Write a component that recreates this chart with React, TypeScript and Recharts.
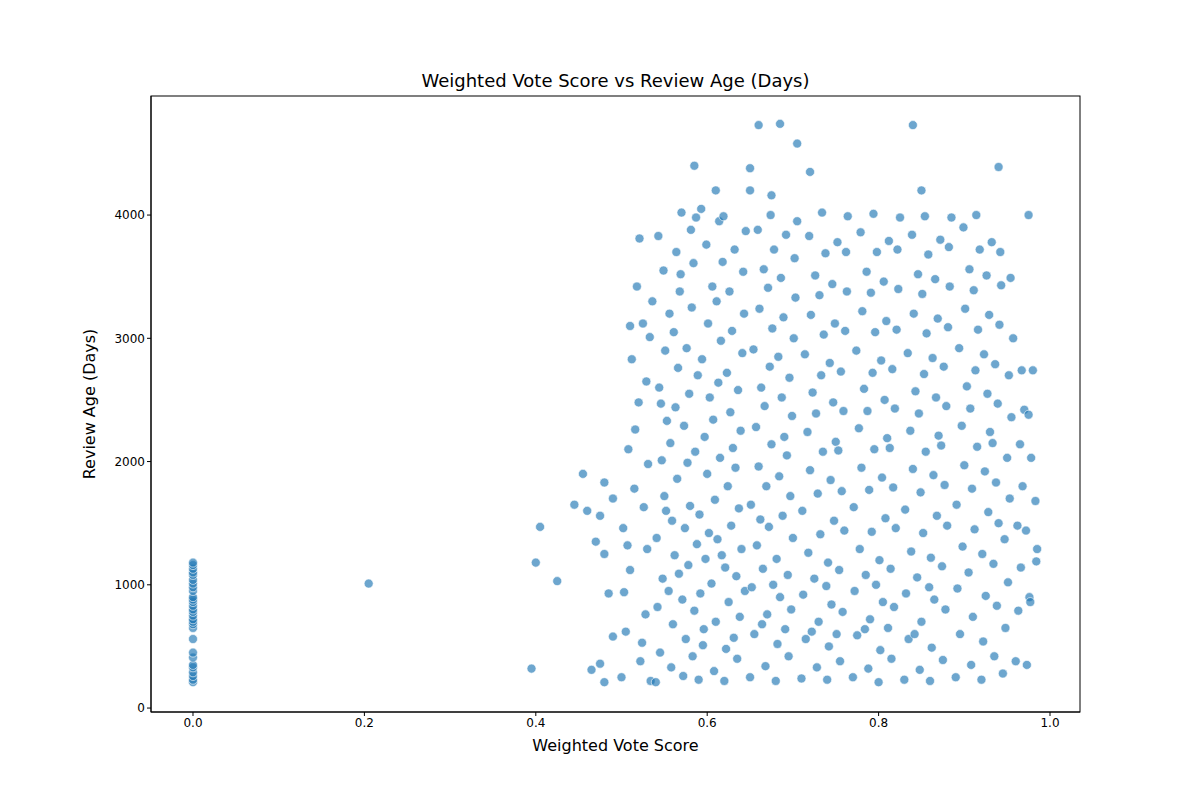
import { Scatter, ScatterChart, XAxis, YAxis, ZAxis } from 'recharts';

type Pt = [number, number];

const zeroScores: number[] = [210, 230, 260, 290, 330, 350, 410, 450, 560, 650, 680, 700, 720, 750, 780, 800, 830, 860, 880, 900, 950, 980, 1010, 1040, 1080, 1100, 1130, 1160, 1180];

const lowOutliers: Pt[] = [[0.205,1010],[0.395,320],[0.40,1180],[0.405,1470],[0.425,1030],[0.455,1900],[0.445,1650],[0.46,1600],[0.47,1350],[0.475,1560],[0.48,1250],[0.48,210],[0.465,310],[0.475,360],[0.485,930],[0.49,580],[0.49,1700],[0.48,1830]];

const highOutliers: Pt[] = [[0.66,4730],[0.685,4740],[0.84,4730],[0.705,4580],[0.585,4400],[0.65,4380],[0.72,4350],[0.94,4390],[0.61,4200],[0.85,4200],[0.65,4200],[0.675,4160],[0.975,4000]];

const mainCloud: Pt[] = [
  [0.50,250],[0.505,620],[0.51,1120],[0.502,1460],[0.515,1780],[0.508,2100],[0.52,2480],[0.512,2830],[0.525,3120],[0.518,3420],[0.503,940],[0.522,380],[0.528,760],[0.53,1290],[0.526,1630],[0.531,1980],[0.516,2260],[0.529,2650],[0.533,3010],[0.521,3810],[0.51,3100],[0.524,530],[0.507,1320],[0.534,220],[0.536,3300],
  [0.54,210],[0.545,450],[0.542,820],[0.548,1050],[0.541,1380],[0.55,1720],[0.547,2010],[0.553,2330],[0.544,2600],[0.551,2900],[0.556,3200],[0.549,3550],[0.543,3830],[0.558,330],[0.56,680],[0.555,950],[0.562,1240],[0.559,1520],[0.565,1860],[0.557,2150],[0.563,2440],[0.566,2760],[0.561,3050],[0.568,3380],[0.564,3700],[0.57,4020],[0.572,260],[0.575,560],[0.571,880],[0.578,1160],[0.574,1460],[0.58,1640],[0.577,1990],[0.573,2290],[0.579,2550],[0.576,2920],[0.582,3250],[0.569,3520],[0.581,3880],[0.567,1090],[0.552,1600],[0.546,2470],[0.583,420],[0.585,790],[0.588,1330],[0.586,2080],[0.589,2700],[0.584,3610],[0.587,3980],
  [0.59,230],[0.595,510],[0.592,930],[0.598,1210],[0.591,1570],[0.6,1900],[0.597,2200],[0.603,2520],[0.594,2830],[0.601,3120],[0.606,3420],[0.599,3760],[0.593,4050],[0.608,300],[0.61,700],[0.605,1010],[0.612,1370],[0.609,1690],[0.615,2030],[0.607,2340],[0.613,2640],[0.616,2980],[0.611,3300],[0.618,3620],[0.614,3950],[0.62,220],[0.622,480],[0.625,860],[0.621,1140],[0.628,1480],[0.624,1800],[0.63,2110],[0.627,2400],[0.623,2720],[0.629,3060],[0.626,3380],[0.632,3720],[0.619,3990],[0.635,400],[0.638,740],[0.634,1070],[0.64,1290],[0.637,1620],[0.633,1950],[0.639,2250],[0.636,2580],[0.641,2880],[0.643,3200],[0.642,3540],[0.645,3870],[0.596,640],[0.617,1240],[0.631,570],[0.602,1420],[0.644,950],
  [0.65,250],[0.655,600],[0.652,980],[0.658,1320],[0.651,1650],[0.66,1960],[0.657,2280],[0.663,2600],[0.654,2910],[0.661,3240],[0.666,3560],[0.659,3880],[0.668,340],[0.67,760],[0.665,1130],[0.672,1470],[0.669,1800],[0.675,2140],[0.667,2450],[0.673,2770],[0.676,3080],[0.671,3410],[0.678,3720],[0.674,4000],[0.68,220],[0.682,520],[0.685,900],[0.681,1210],[0.688,1560],[0.684,1880],[0.69,2200],[0.687,2520],[0.683,2850],[0.689,3170],[0.686,3490],[0.692,3840],[0.695,420],[0.698,800],[0.694,1080],[0.7,1380],[0.697,1720],[0.693,2050],[0.699,2370],[0.696,2680],[0.701,3000],[0.703,3330],[0.702,3650],[0.705,3950],[0.664,680],[0.677,1000],[0.691,640],[0.662,1530],
  [0.71,240],[0.715,560],[0.712,920],[0.718,1260],[0.711,1600],[0.72,1930],[0.717,2240],[0.723,2560],[0.714,2870],[0.721,3190],[0.726,3510],[0.719,3830],[0.728,330],[0.73,700],[0.725,1050],[0.732,1410],[0.729,1740],[0.735,2080],[0.727,2390],[0.733,2700],[0.736,3030],[0.731,3350],[0.738,3690],[0.734,4020],[0.74,230],[0.742,500],[0.745,840],[0.741,1180],[0.748,1520],[0.744,1850],[0.75,2160],[0.747,2480],[0.743,2800],[0.749,3120],[0.746,3440],[0.752,3780],[0.755,380],[0.758,780],[0.754,1120],[0.76,1440],[0.757,1760],[0.753,2090],[0.759,2410],[0.756,2730],[0.761,3060],[0.763,3380],[0.762,3700],[0.764,3990],[0.722,620],[0.739,990],[0.751,600],
  [0.77,250],[0.775,590],[0.772,950],[0.778,1290],[0.771,1630],[0.78,1950],[0.777,2270],[0.783,2590],[0.774,2900],[0.781,3220],[0.786,3540],[0.779,3860],[0.788,320],[0.79,720],[0.785,1080],[0.792,1430],[0.789,1770],[0.795,2100],[0.787,2410],[0.793,2720],[0.796,3050],[0.791,3370],[0.798,3700],[0.794,4010],[0.8,210],[0.802,470],[0.805,860],[0.801,1200],[0.808,1540],[0.804,1870],[0.81,2190],[0.807,2500],[0.803,2820],[0.809,3140],[0.806,3460],[0.812,3790],[0.815,400],[0.818,820],[0.814,1130],[0.82,1460],[0.817,1790],[0.813,2110],[0.819,2430],[0.816,2750],[0.821,3070],[0.823,3400],[0.822,3720],[0.825,3980],[0.784,640],[0.797,1000],[0.811,650],
  [0.83,230],[0.835,560],[0.832,930],[0.838,1270],[0.831,1610],[0.84,1940],[0.837,2250],[0.843,2570],[0.834,2880],[0.841,3200],[0.846,3520],[0.839,3840],[0.848,310],[0.85,700],[0.845,1060],[0.852,1420],[0.849,1750],[0.855,2080],[0.847,2390],[0.853,2710],[0.856,3040],[0.851,3360],[0.858,3680],[0.854,3990],[0.86,220],[0.862,490],[0.865,880],[0.861,1220],[0.868,1560],[0.864,1890],[0.87,2210],[0.867,2520],[0.863,2840],[0.869,3160],[0.866,3480],[0.872,3800],[0.875,390],[0.878,800],[0.874,1150],[0.88,1480],[0.877,1810],[0.873,2130],[0.879,2450],[0.876,2770],[0.881,3090],[0.883,3420],[0.882,3740],[0.885,3980],[0.842,600],[0.859,980],
  [0.89,250],[0.895,600],[0.892,970],[0.898,1310],[0.891,1650],[0.9,1970],[0.897,2290],[0.903,2610],[0.894,2920],[0.901,3240],[0.906,3560],[0.899,3900],[0.908,350],[0.91,740],[0.905,1100],[0.912,1450],[0.909,1780],[0.915,2120],[0.907,2430],[0.913,2740],[0.916,3070],[0.911,3390],[0.918,3720],[0.914,4000],[0.92,230],[0.922,540],[0.925,910],[0.921,1250],[0.928,1590],[0.924,1920],[0.93,2240],[0.927,2550],[0.923,2870],[0.929,3190],[0.926,3510],[0.932,3780],[0.935,420],[0.938,830],[0.934,1170],[0.94,1500],[0.937,1830],[0.933,2150],[0.939,2470],[0.936,2790],[0.941,3110],[0.943,3430],[0.942,3700],[0.945,280],[0.948,650],[0.951,1020],[0.947,1370],[0.953,1700],[0.95,2030],[0.955,2360],[0.952,2700],[0.957,3000],[0.954,3490],[0.96,380],[0.963,790],[0.966,1140],[0.962,1480],[0.968,1800],[0.965,2140],[0.97,2420],[0.967,2740],[0.973,350],[0.976,900],[0.972,1440],[0.978,2030],[0.975,2380],[0.98,2740],[0.983,1680],[0.985,1290],[0.984,1190],[0.977,860],
];

const xTicks = [0, 0.2, 0.4, 0.6, 0.8, 1.0];
const yTicks = [0, 1000, 2000, 3000, 4000];

const POINT_COLOR = '#1f77b4';
const FONT = 'DejaVu Sans, sans-serif';

const points = [
  ...zeroScores.map((y) => ({ x: 0, y })),
  ...lowOutliers.map(([x, y]) => ({ x, y })),
  ...mainCloud.map(([x, y]) => ({ x, y })),
  ...highOutliers.map(([x, y]) => ({ x, y })),
];

export default function App() {
  return (
    <div style={{ position: 'absolute', left: 0, top: 0, width: 1200, height: 800, background: '#fff', fontFamily: FONT }}>
      <div style={{ position: 'absolute', top: 70, left: 151, width: 929, textAlign: 'center', fontSize: 18, color: '#000' }}>
        Weighted Vote Score vs Review Age (Days)
      </div>
      <ScatterChart width={1200} height={800} margin={{ top: 96, right: 120, bottom: 0, left: 0 }}>
        <XAxis
          type="number"
          dataKey="x"
          domain={[-0.049, 1.035]}
          ticks={xTicks}
          tickFormatter={(v) => v.toFixed(1)}
          tick={{ fontSize: 12, fill: '#000', fontFamily: FONT }}
          tickLine={{ stroke: '#000' }}
          axisLine={{ stroke: '#000' }}
          tickSize={4}
          height={88}
          allowDataOverflow
          label={{ value: 'Weighted Vote Score', position: 'insideTop', offset: 28, fontSize: 16, fill: '#000', fontFamily: FONT }}
        />
        <YAxis
          type="number"
          dataKey="y"
          domain={[-32, 4966]}
          ticks={yTicks}
          tick={{ fontSize: 12, fill: '#000', fontFamily: FONT }}
          tickLine={{ stroke: '#000' }}
          axisLine={{ stroke: '#000' }}
          tickSize={4}
          width={151}
          allowDataOverflow
          label={{ value: 'Review Age (Days)', angle: -90, position: 'insideRight', offset: 62, fontSize: 16, fill: '#000', fontFamily: FONT, style: { textAnchor: 'middle' } }}
        />
        <ZAxis range={[64, 64]} />
        <Scatter
          data={points}
          fill={POINT_COLOR}
          fillOpacity={0.65}
          stroke="#fff"
          strokeWidth={0.6}
          isAnimationActive={false}
        />
        <svg>
          <rect x={151} y={96} width={929} height={616} fill="none" stroke="#000" />
        </svg>
      </ScatterChart>
    </div>
  );
}
